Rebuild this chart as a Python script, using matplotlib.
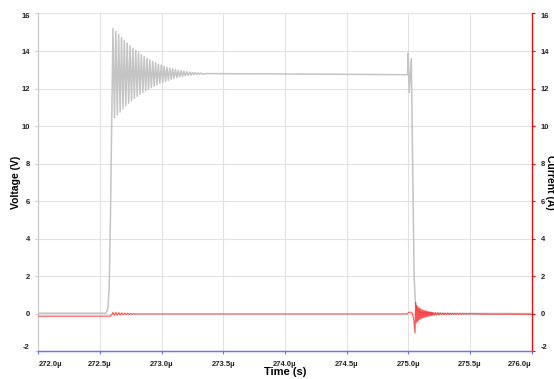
import matplotlib
matplotlib.use("Agg")
import matplotlib.pyplot as plt

plt.rcParams['font.family'] = ['Liberation Sans', 'DejaVu Sans']

# --- data (time in microseconds) ---
x_ticks = [272.0, 272.5, 273.0, 273.5, 274.0, 274.5, 275.0, 275.5, 276.0]
y_ticks = [-2, 0, 2, 4, 6, 8, 10, 12, 14, 16]

# voltage: baseline, rise, ringing at turn-on
volt_pre_t = [272.0, 272.55, 272.565, 272.575, 272.585, 272.595]
volt_pre_v = [0.04, 0.04, 0.3, 1.5, 5.0, 10.0]

volt_ring_t = [272.606, 272.618, 272.629, 272.641, 272.652, 272.664, 272.675, 272.687,
               272.698, 272.710, 272.721, 272.733, 272.744, 272.756, 272.767, 272.779,
               272.790, 272.802, 272.813, 272.825, 272.836, 272.848, 272.859, 272.871,
               272.882, 272.894, 272.905, 272.917, 272.928, 272.940, 272.951, 272.963,
               272.974, 272.986, 272.997, 273.009, 273.020, 273.032, 273.043, 273.055,
               273.066, 273.078, 273.089, 273.101, 273.112, 273.124, 273.135, 273.147,
               273.158, 273.170, 273.181, 273.193, 273.204, 273.216, 273.227, 273.239,
               273.250, 273.262, 273.273, 273.285, 273.296, 273.308, 273.319, 273.331]
volt_ring_v = [15.20, 10.45, 15.05, 10.60, 14.90, 10.75, 14.72, 10.92,
               14.56, 11.08, 14.42, 11.22, 14.28, 11.35, 14.15, 11.47,
               14.03, 11.58, 13.92, 11.69, 13.81, 11.79, 13.71, 11.88,
               13.62, 11.97, 13.53, 12.05, 13.45, 12.13, 13.38, 12.20,
               13.31, 12.27, 13.25, 12.33, 13.19, 12.39, 13.14, 12.44,
               13.09, 12.49, 13.05, 12.54, 13.01, 12.58, 12.98, 12.62,
               12.95, 12.65, 12.92, 12.68, 12.90, 12.70, 12.88, 12.72,
               12.86, 12.74, 12.85, 12.75, 12.84, 12.76, 12.83, 12.77]

# voltage: plateau, turn-off spikes, fall, tail
volt_post_t = [273.36, 273.6, 274.0, 274.5, 274.995, 275.0, 275.008, 275.025,
               275.038, 275.048, 275.058, 275.07, 275.1, 275.3, 276.0]
volt_post_v = [12.80, 12.79, 12.78, 12.76, 12.74, 13.9, 11.8, 13.6,
               7.0, 2.0, 0.6, 0.2, 0.05, 0.03, 0.02]

# current: offset before turn-on, small ringing, flat
cur_pre_t = [272.0, 272.585, 272.600, 272.605, 272.617, 272.629, 272.641, 272.653,
             272.665, 272.677, 272.689, 272.701, 272.713, 272.725, 272.737, 272.749,
             272.761, 272.773, 272.785, 272.80, 274.99, 275.005, 275.02, 275.035, 275.045]
cur_pre_v = [-0.12, -0.12, 0.0, 0.09, -0.08, 0.08, -0.07, 0.07,
             -0.06, 0.06, -0.05, 0.05, -0.04, 0.04, -0.03, 0.03,
             -0.02, 0.02, -0.01, 0.0, 0.0, 0.08, 0.10, 0.02, -0.3]

# current: ringing after turn-off
cur_ring_t = [275.055, 275.060, 275.065, 275.070, 275.075, 275.080, 275.085, 275.090,
              275.095, 275.100, 275.105, 275.110, 275.115, 275.120, 275.125, 275.130,
              275.135, 275.140, 275.145, 275.150, 275.155, 275.160, 275.165, 275.170,
              275.175, 275.180, 275.185, 275.190, 275.195, 275.200, 275.210, 275.220,
              275.230, 275.240, 275.250, 275.260, 275.270, 275.280, 275.290, 275.300,
              275.310, 275.320, 275.330, 275.340, 275.350, 275.360, 275.370, 275.380,
              275.390, 275.400, 275.410, 275.420, 275.430, 275.440, 275.450, 275.460,
              275.470, 275.480, 275.490, 275.500, 275.6, 276.0]
cur_ring_v = [-1.02, 0.60, -0.48, 0.45, -0.40, 0.37, -0.34, 0.31,
              -0.29, 0.27, -0.25, 0.23, -0.22, 0.20, -0.19, 0.18,
              -0.17, 0.16, -0.15, 0.14, -0.135, 0.125, -0.12, 0.11,
              -0.105, 0.10, -0.095, 0.09, -0.085, 0.08, -0.075, 0.07,
              -0.065, 0.06, -0.056, 0.052, -0.048, 0.045, -0.042, 0.039,
              -0.036, 0.034, -0.032, 0.030, -0.028, 0.026, -0.024, 0.022,
              -0.021, 0.020, -0.019, 0.018, -0.017, 0.016, -0.015, 0.014,
              -0.013, 0.012, -0.012, 0.011, -0.01, -0.02]

volt_t = volt_pre_t + volt_ring_t + volt_post_t
volt_v = volt_pre_v + volt_ring_v + volt_post_v
cur_t = cur_pre_t + cur_ring_t
cur_v = cur_pre_v + cur_ring_v

# --- figure ---
fig = plt.figure(figsize=(5.54, 3.79), dpi=100)
ax = fig.add_axes([0.0691, 0.0726, 0.8903, 0.8918])
ax2 = ax.twinx()

ax.plot(volt_t, volt_v, color='#c4c4c4', lw=1.1, zorder=3)
ax2.plot(cur_t, cur_v, color='#ff1a1a', lw=0.8, alpha=0.75, zorder=3)

for a in (ax, ax2):
    a.set_xlim(272.0, 276.0)
    a.set_ylim(-2, 16)
    a.set_yticks(y_ticks)

ax.set_xticks(x_ticks)
ax.set_xticklabels([f"{t:.1f}\u00b5" for t in x_ticks], fontsize=5.5, fontweight='bold')
ax.set_yticklabels([str(v) for v in y_ticks], fontsize=5.5, fontweight='bold')
ax2.set_yticklabels([str(v) for v in y_ticks], fontsize=5.5, fontweight='bold')

xl = ax.get_xticklabels()
xl[0].set_ha('left')
xl[-1].set_ha('right')
for labels in (ax.get_yticklabels(), ax2.get_yticklabels()):
    labels[0].set_va('bottom')
    labels[-1].set_va('top')

ax.grid(True, color='#e2e2e2', lw=0.8)
ax.set_axisbelow(True)

ax.tick_params(axis='x', colors='#7070ff', length=2, width=0.8, pad=5, labelcolor='#222222')
ax.tick_params(axis='y', colors='#cccccc', length=2, width=0.8, pad=4, labelcolor='#222222')
ax2.tick_params(axis='y', colors='red', length=2.5, width=0.8, pad=4, labelcolor='#222222')

ax.spines['top'].set_visible(False)
ax2.spines['top'].set_visible(False)
ax.spines['left'].set_color('#cccccc')
ax.spines['bottom'].set_color('#7070ff')
ax2.spines['bottom'].set_color('#7070ff')
ax2.spines['left'].set_visible(False)
ax.spines['right'].set_visible(False)
ax2.spines['right'].set_color('red')
for s in ['left', 'bottom', 'right']:
    ax2.spines[s].set_linewidth(0.9)
    ax.spines[s].set_linewidth(0.9)

fig.text(0.029, 0.52, 'Voltage (V)', rotation=90, ha='center', va='center',
         fontsize=7.5, fontweight='bold')
fig.text(0.993, 0.52, 'Current (A)', rotation=270, ha='center', va='center',
         fontsize=7.5, fontweight='bold')
fig.text(0.515, 0.018, 'Time (s)', ha='center', va='center', fontsize=8, fontweight='bold')

fig.savefig('out.png', dpi=100)
